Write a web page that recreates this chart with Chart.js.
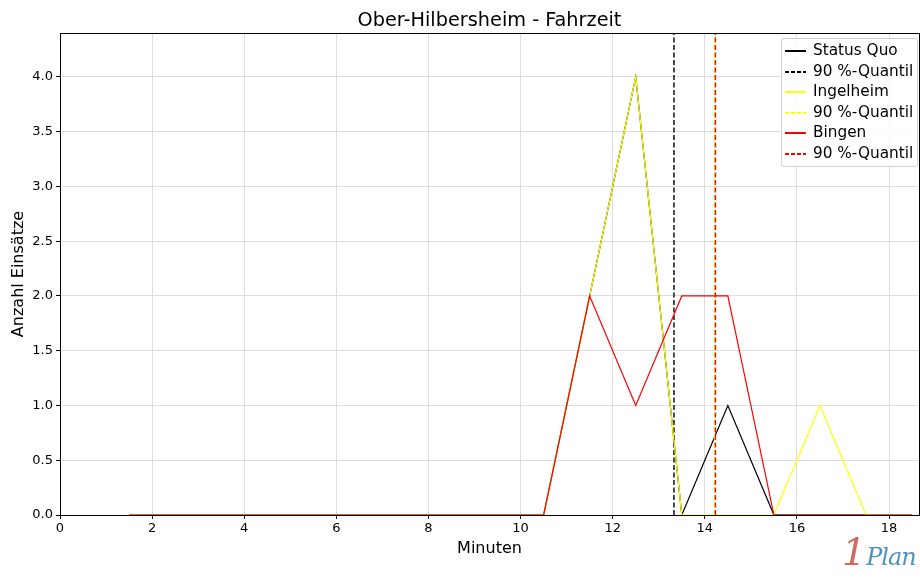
<!DOCTYPE html>
<html><head><meta charset="utf-8">
<script src="https://cdn.jsdelivr.net/npm/chart.js@4.4.1/dist/chart.umd.min.js"></script>
<style>
html,body{margin:0;padding:0;background:#fff;}
#wrap{position:relative;width:920px;height:583px;font-family:"DejaVu Sans",sans-serif;}
#title{position:absolute;left:0;width:979px;top:8px;text-align:center;font-size:19.3px;color:#000;}
#legend{position:absolute;left:781px;top:38px;width:135px;height:127px;border:1px solid #d0d0d0;border-radius:3px;background:rgba(255,255,255,0.85);}
.row{position:absolute;left:0;height:20px;font-size:15.3px;line-height:20px;color:#000;}
.samp{position:absolute;left:3px;top:10px;width:21px;height:2px;}
.lbl{position:absolute;left:31px;top:0;white-space:nowrap;}
#logo{position:absolute;left:842px;top:530px;font-style:italic;font-family:"DejaVu Serif",serif;line-height:44px;white-space:nowrap;}
</style></head>
<body><div id="wrap">
<canvas id="c" width="920" height="583" style="width:920px;height:583px;"></canvas>
<div id="title">Ober-Hilbersheim - Fahrzeit</div>
<div id="legend"></div>
<div id="logo"><span style="color:#d46a5e;font-size:38px;">1</span><span style="color:#4f93b8;font-size:24px;letter-spacing:-1px;">Plan</span></div>
</div>
<script>
const minutes = [1.5,2.5,3.5,4.5,5.5,6.5,7.5,8.5,9.5,10.5,11.5,12.5,13.5,14.5,15.5,16.5,17.5,18.5];
const statusQuo = [0,0,0,0,0,0,0,0,0,0,2,4,0,1,0,0,0,0];
const ingelheim = [0,0,0,0,0,0,0,0,0,0,2,4,0,0,0,1,0,0];
const bingen    = [0,0,0,0,0,0,0,0,0,0,2,1,2,2,0,0,0,0];
const quantiles = [13.33, 14.21, 14.23];
const seriesNames = ["Status Quo","Ingelheim","Bingen"];
const colors = ["#000000","#ffff00","#ff0000"];
const xTicks = [0,2,4,6,8,10,12,14,16,18];
const yTicks = [0,0.5,1,1.5,2,2.5,3,3.5,4];
const X_MAX = 18.65, Y_MAX = 4.4;

const series = [statusQuo, ingelheim, bingen];
const datasets = [];
series.forEach((vals, i) => {
  datasets.push({
    label: seriesNames[i],
    data: minutes.map((m, k) => ({x: m, y: vals[k]})),
    borderColor: colors[i], borderWidth: 1.2, pointRadius: 0, fill: false, tension: 0,
    order: 10 - 2*i
  });
  datasets.push({
    label: "90 %-Quantil",
    data: [{x: quantiles[i], y: 0}, {x: quantiles[i], y: Y_MAX}],
    borderColor: colors[i], borderWidth: 1.4, borderDash: [5, 2.5], pointRadius: 0, fill: false,
    order: 9 - 2*i
  });
});

// HTML legend
const leg = document.getElementById('legend');
datasets.forEach((d, i) => {
  const row = document.createElement('div');
  row.className = 'row';
  row.style.top = (1 + i * 20.6) + 'px';
  const s = document.createElement('div');
  s.className = 'samp';
  s.style.background = d.borderDash
    ? 'repeating-linear-gradient(to right,' + d.borderColor + ' 0 4px, transparent 4px 6px)'
    : d.borderColor;
  row.appendChild(s);
  const t = document.createElement('span');
  t.className = 'lbl';
  t.textContent = d.label;
  row.appendChild(t);
  leg.appendChild(row);
});

const frame = {
  id: 'frame',
  afterDatasetsDraw(chart) {
    const a = chart.chartArea, ctx = chart.ctx;
    ctx.save();
    ctx.strokeStyle = '#000'; ctx.lineWidth = 1;
    ctx.strokeRect(Math.round(a.left) + 0.5, Math.round(a.top) + 0.5, Math.round(a.right - a.left), Math.round(a.bottom - a.top));
    ctx.restore();
  }
};

new Chart(document.getElementById('c'), {
  type: 'line',
  data: { datasets },
  options: {
    responsive: false, animation: false,
    layout: { padding: { top: 33, right: 1, left: 5, bottom: 21 } },
    plugins: { legend: { display: false }, tooltip: { enabled: false }, title: { display: false } },
    scales: {
      x: {
        type: 'linear', min: 0, max: X_MAX,
        afterBuildTicks: s => { s.ticks = xTicks.map(v => ({value: v})); },
        afterFit: s => { s.height = 47; },
        ticks: { color: '#000', font: { family: 'DejaVu Sans', size: 13 }, padding: 2, maxRotation: 0, callback: v => String(v) },
        grid: { color: '#dddddd', borderDash: [3, 3], tickColor: '#000', tickLength: 4, tickBorderDash: [] },
        border: { display: true, color: '#000' },
        title: { display: true, text: 'Minuten', color: '#000', font: { family: 'DejaVu Sans', size: 16 }, padding: { top: 2 } }
      },
      y: {
        type: 'linear', min: 0, max: Y_MAX,
        afterBuildTicks: s => { s.ticks = yTicks.map(v => ({value: v})); },
        afterFit: s => { s.width = 55; },
        ticks: { color: '#000', font: { family: 'DejaVu Sans', size: 13 }, padding: 3, callback: v => Number(v).toFixed(1) },
        grid: { color: '#dddddd', borderDash: [3, 3], tickColor: '#000', tickLength: 4, tickBorderDash: [] },
        border: { display: true, color: '#000' },
        title: { display: true, text: 'Anzahl Einsätze', color: '#000', font: { family: 'DejaVu Sans', size: 16 }, padding: { bottom: 2 } }
      }
    }
  },
  plugins: [frame]
});
</script>
</body></html>
